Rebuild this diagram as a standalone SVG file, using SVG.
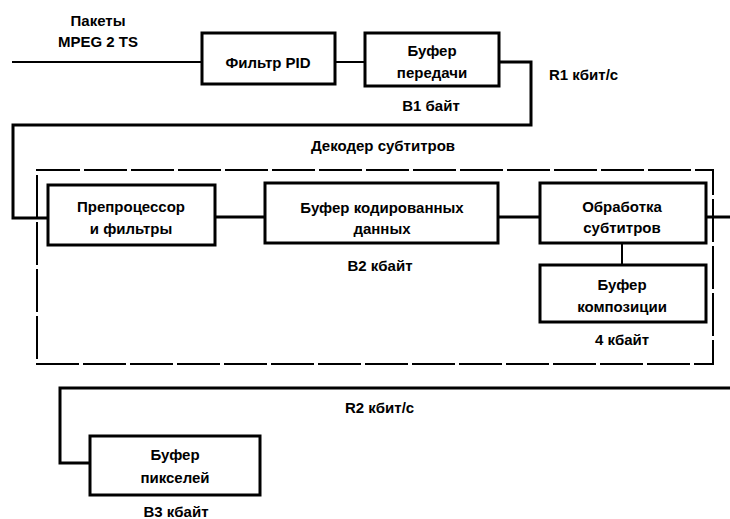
<svg xmlns="http://www.w3.org/2000/svg" width="730" height="519" viewBox="0 0 730 519">
<style>
.box{fill:#fff;stroke:#000;stroke-width:3}
.t{font-family:"Liberation Sans",Arial,sans-serif;font-weight:bold;font-size:15px;fill:#000;text-anchor:middle}
.l{font-family:"Liberation Sans",Arial,sans-serif;font-weight:bold;font-size:15px;fill:#000}
.c{fill:none;stroke:#000;stroke-width:3}
.thin{fill:none;stroke:#000;stroke-width:2}
.dash{fill:none;stroke:#000;stroke-width:2;stroke-dasharray:43 4}
</style>
<rect width="730" height="519" fill="#fff"/>
<g id="connectors">
<path class="thin" d="M12 62 H202"/>
<path class="thin" d="M335 62 H365"/>
<path class="c" d="M499 62 H531 V125 H13 V218 H48"/>
<path class="c" d="M215 217 H265"/>
<path class="c" d="M498 217 H540"/>
<path class="c" d="M706 217 H730"/>
<path class="thin" d="M622 243 V265"/>
<path class="c" d="M730 388 H60 V463 H90"/>
</g>
<g id="decoder">
<rect class="dash" x="37" y="170" width="676" height="194"/>
<text class="t" x="383" y="151">Декодер субтитров</text>
</g>
<g id="input-label">
<text class="t" x="98" y="26">Пакеты</text>
<text class="t" x="98" y="47">MPEG 2 TS</text>
</g>
<g id="pid-filter">
<rect class="box" x="202" y="33" width="133" height="51"/>
<text class="t" x="268" y="68">Фильтр PID</text>
</g>
<g id="transport-buffer">
<rect class="box" x="365" y="33" width="134" height="53"/>
<text class="t" x="432" y="56">Буфер</text>
<text class="t" x="432" y="78">передачи</text>
<text class="t" x="431" y="111">B1 байт</text>
</g>
<text class="l" x="549" y="80">R1 кбит/с</text>
<g id="preprocessor">
<rect class="box" x="48" y="185" width="167" height="60"/>
<text class="t" x="131" y="212">Препроцессор</text>
<text class="t" x="131" y="234">и фильтры</text>
</g>
<g id="coded-data-buffer">
<rect class="box" x="265" y="183" width="233" height="60"/>
<text class="t" x="382" y="213">Буфер кодированных</text>
<text class="t" x="382" y="234">данных</text>
<text class="t" x="380" y="271">B2 кбайт</text>
</g>
<g id="subtitle-processing">
<rect class="box" x="540" y="183" width="166" height="60"/>
<text class="t" x="622" y="212">Обработка</text>
<text class="t" x="622" y="233">субтитров</text>
</g>
<g id="composition-buffer">
<rect class="box" x="540" y="265" width="166" height="57"/>
<text class="t" x="622" y="290">Буфер</text>
<text class="t" x="622" y="312">композиции</text>
<text class="t" x="622" y="345">4 кбайт</text>
</g>
<text class="l" x="345" y="413">R2 кбит/с</text>
<g id="pixel-buffer">
<rect class="box" x="90" y="436" width="170" height="59"/>
<text class="t" x="175" y="460">Буфер</text>
<text class="t" x="175" y="483">пикселей</text>
<text class="t" x="176" y="517">B3 кбайт</text>
</g>
</svg>
